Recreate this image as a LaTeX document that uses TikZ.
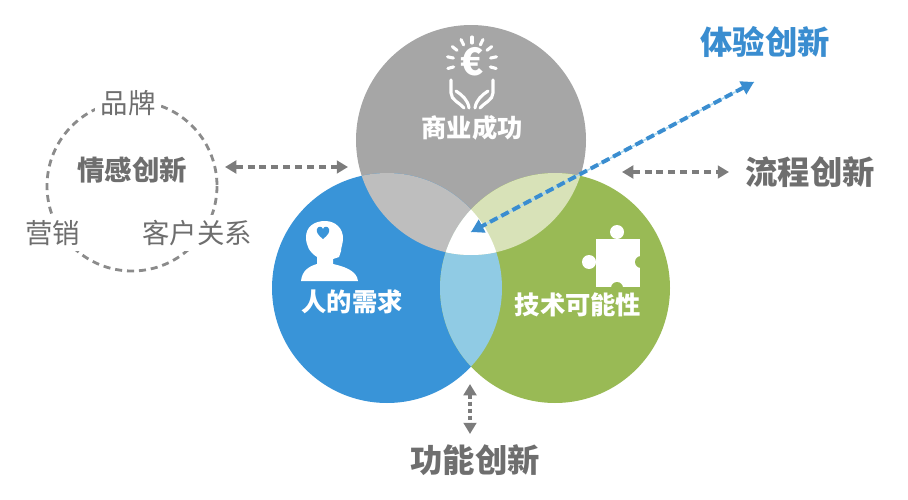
\documentclass[tikz,border=0pt]{standalone}
\usepackage{fontspec}
\setmainfont{Noto Sans CJK SC}
\usetikzlibrary{arrows.meta}

\definecolor{bizgray}{HTML}{A6A6A6}
\definecolor{humanblue}{HTML}{3994D8}
\definecolor{techgreen}{HTML}{99BA55}
\definecolor{bizhuman}{HTML}{BEBEBE}
\definecolor{biztech}{HTML}{D8E2B8}
\definecolor{humantech}{HTML}{90CBE4}
\definecolor{textgray}{HTML}{6E6E6E}
\definecolor{arrowgray}{HTML}{7C7C7C}
\definecolor{experblue}{HTML}{3A8DD0}
\definecolor{experlight}{HTML}{A8D8F0}

\tikzstyle{circletext}=[text=white, font=\bfseries\fontsize{18}{18}\selectfont]
\tikzstyle{kind}=[text=textgray, font=\bfseries\fontsize{23}{23}\selectfont]
\tikzstyle{aspect}=[text=textgray, font=\fontsize{19.5}{19.5}\selectfont, fill=white, inner sep=4pt]
\tikzstyle{twoway}=[line width=2.6pt, arrowgray, dash pattern=on 5pt off 3.5pt, {Triangle[length=8pt,width=9pt]}-{Triangle[length=8pt,width=9pt]}]
\tikzstyle{icon}=[white, line width=2.2pt, line cap=round]

\begin{document}
\begin{tikzpicture}[x=0.025cm, y=-0.025cm]
      \useasboundingbox (0,0) rectangle (908,500);
      \def\rad{115}
      \coordinate (cb) at (471,140);
      \coordinate (ch) at (387,288);
      \coordinate (ct) at (555,288);

      % the three circles and their overlaps
      \fill[bizgray] (cb) circle[radius=\rad];
      \fill[humanblue] (ch) circle[radius=\rad];
      \fill[techgreen] (ct) circle[radius=\rad];
      \begin{scope}
        \clip (ch) circle[radius=\rad];
        \fill[bizhuman] (cb) circle[radius=\rad];
        \fill[humantech] (ct) circle[radius=\rad];
      \end{scope}
      \begin{scope}
        \clip (cb) circle[radius=\rad];
        \fill[biztech] (ct) circle[radius=\rad];
        \clip (ch) circle[radius=\rad];
        \fill[white] (ct) circle[radius=\rad];
      \end{scope}

      % euro in hands
      \node[text=white, font=\bfseries\fontsize{27}{27}\selectfont] (euro) at (472,62) {€};
      \foreach \a in {-15,12,38,64,90,116,142,168,195}
        \draw[icon] ({472+19*cos(\a)},{62-19*sin(\a)}) -- ({472+25*cos(\a)},{62-25*sin(\a)});
      \foreach \s in {1,-1} {
        \draw[icon] ({472-21*\s},80) -- ({472-21*\s},93) .. controls ({472-21*\s},100) and ({472-12*\s},103) .. ({472-8*\s},108);
        \draw[icon] ({472-16*\s},91) .. controls ({472-10*\s},95) and ({472-4*\s},100) .. ({472-3*\s},108);
      }

      % head with heart
      \fill[white] (301,281) .. controls (302,270) and (310,266) .. (317,264) -- (317,257)
        .. controls (309,252) and (306,245) .. (306,237) .. controls (306,227) and (314,221) .. (325,221)
        .. controls (336,221) and (343,229) .. (343,238) .. controls (343,244) and (341,247) .. (341,251)
        -- (339,257) -- (333,259) -- (333,264) .. controls (342,266) and (357,270) .. (358,281) -- cycle;
      \fill[humanblue] (323,239) .. controls (318,235) and (316,232) .. (317,229)
        .. controls (318,226) and (322,226) .. (323,229) .. controls (324,226) and (328,226) .. (329,229)
        .. controls (330,232) and (328,235) .. (323,239);

      % puzzle piece
      \fill[white] (596,239) rectangle (640,287);
      \fill[white] (617,232) circle[radius=7];
      \fill[white] (589,262) circle[radius=7];
      \fill[techgreen] (641,262) circle[radius=6];
      \fill[techgreen] (617,288) circle[radius=6];

      % labels in the circles
      \node[circletext] (biz) at (472,128) {商业成功};
      \node[circletext] (human) at (352,302) {人的需求};
      \node[circletext] (tech) at (578,305) {技术可能性};

      % kinds of innovation
      \node[kind] (func) at (475,460) {功能创新};
      \node[kind] (flow) at (810,172) {流程创新};
      \node[kind, text=experblue] (exper) at (765,42) {体验创新};

      \draw[textgray!80, line width=2pt, dash pattern=on 5pt off 3.5pt] (132,186) circle[radius=85];
      \node[kind, font=\bfseries\fontsize{19.5}{19.5}\selectfont] (feel) at (132,170) {情感创新};
      \node[aspect] (brand) at (128,103) {品牌};
      \node[aspect] (market) at (53,233) {营销};
      \node[aspect] (client) at (197,233) {客户关系};

      % connectors
      \coordinate (feel_e) at (225,167);
      \coordinate (human_w) at (348,167);
      \coordinate (tech_e) at (622,172);
      \coordinate (flow_w) at (729,172);
      \coordinate (lens_s) at (470,384);
      \coordinate (func_n) at (470,434);
      \coordinate (exper_s) at (754,82);
      \coordinate (core) at (471,232);

      \draw[twoway] (feel_e) to (human_w);
      \draw[twoway] (tech_e) to (flow_w);
      \draw[twoway, dash pattern=on 3pt off 2pt] (lens_s) to (func_n);
      \draw[experlight, line width=1pt] (exper_s) to (core);
      \draw[experblue, line width=2.8pt, dash pattern=on 6pt off 3pt,
        {Triangle[length=9pt,width=10pt]}-{Triangle[length=9pt,width=10pt]}] (exper_s) to (core);
    \end{tikzpicture}
\end{document}
